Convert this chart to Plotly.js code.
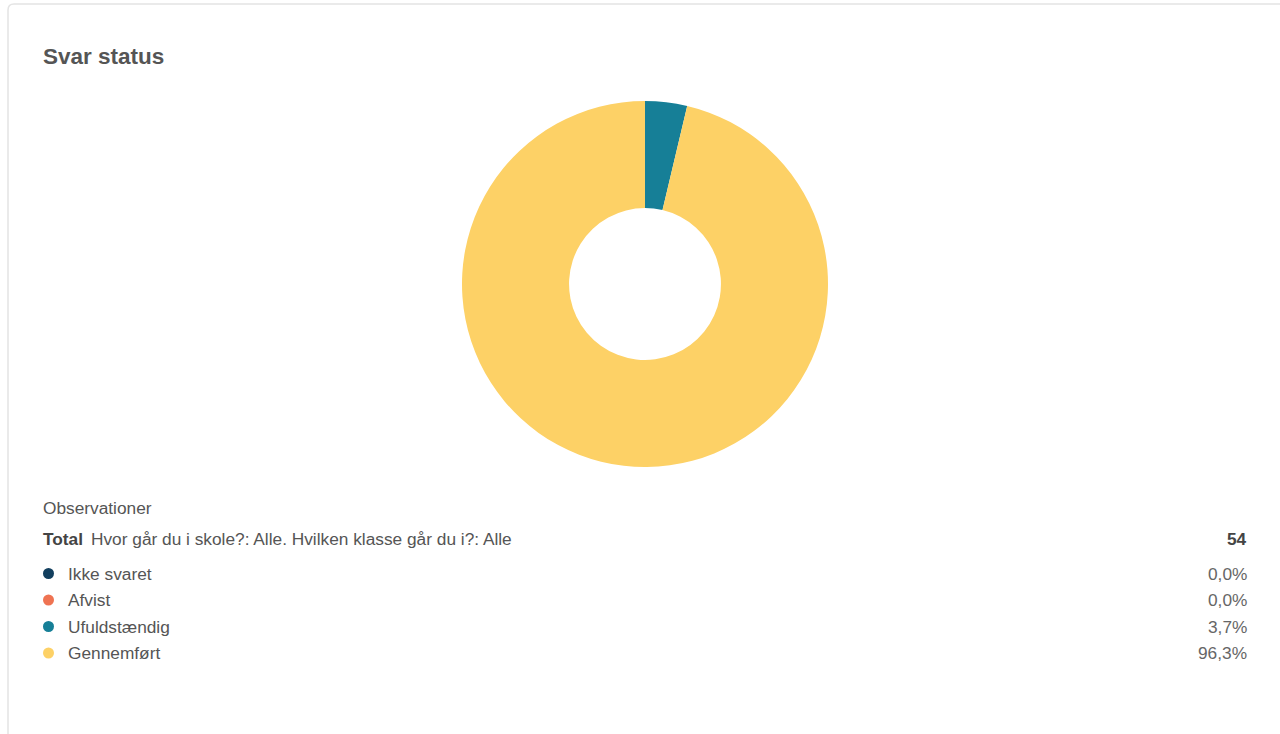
<!DOCTYPE html>
<html>
<head>
<meta charset="utf-8">
<script src="https://cdn.plot.ly/plotly-3.0.1.min.js"></script>
<style>
html,body{margin:0;padding:0;background:#fff;}
#chart{width:1280px;height:734px;}
</style>
</head>
<body>
<div id="chart"></div>
<script>
const categories = ["Ikke svaret", "Afvist", "Ufuldstændig", "Gennemført"];
const counts = [0, 0, 2, 52];
const colors = ["#123f5e", "#ef7352", "#167f97", "#fdd166"];
const chartTitle = "Svar status";
const obsLabel = "Observationer";
const totalLabel = "Total";
const filterText = "Hvor går du i skole?: Alle. Hvilken klasse går du i?: Alle";

const W = 1280, H = 734;
const px = x => x / W;
const py = y => 1 - y / H;

const total = counts.reduce((a, b) => a + b, 0);
const pct = counts.map(c => (c / total * 100).toFixed(1).replace('.', ',') + '%');

const FONT = "Liberation Sans, Arial, sans-serif";
const FS = 17.3;

const trace = {
  type: 'pie',
  labels: categories,
  values: counts,
  marker: {colors: colors, line: {width: 0}},
  hole: 0.415,
  sort: false,
  direction: 'clockwise',
  rotation: 0,
  textinfo: 'none',
  hoverinfo: 'label+percent',
  showlegend: false,
  domain: {x: [px(462), px(828)], y: [py(467), py(101)]}
};

const annotations = [
  {text: '<b>' + chartTitle + '</b>', x: px(41), y: py(56), xanchor: 'left', yanchor: 'middle',
   font: {size: 22.5, color: '#555555', family: FONT}},
  {text: obsLabel, x: px(41), y: py(508), xanchor: 'left', yanchor: 'middle',
   font: {size: FS, color: '#555555', family: FONT}},
  {text: '<b>' + totalLabel + '</b>', x: px(41), y: py(539), xanchor: 'left', yanchor: 'middle',
   font: {size: FS, color: '#444444', family: FONT}},
  {text: filterText, x: px(89), y: py(539), xanchor: 'left', yanchor: 'middle',
   font: {size: FS, color: '#555555', family: FONT}},
  {text: '<b>' + total + '</b>', x: px(1249), y: py(539), xanchor: 'right', yanchor: 'middle',
   font: {size: FS, color: '#444444', family: FONT}}
];

const shapes = [
  {type: 'path', xref: 'paper', yref: 'paper',
   path: `M ${px(8)},${py(740)} L ${px(8)},${py(10)} Q ${px(8)},${py(4)} ${px(14)},${py(4)} L ${px(1290)},${py(4)}`,
   line: {color: '#e4e4e4', width: 1.5}}
];

const rowY0 = 573.5, rowStep = 26.5;
categories.forEach((c, i) => {
  const y = rowY0 + i * rowStep;
  annotations.push({text: c, x: px(66), y: py(y), xanchor: 'left', yanchor: 'middle',
    font: {size: FS, color: '#555555', family: FONT}});
  annotations.push({text: pct[i], x: px(1249), y: py(y), xanchor: 'right', yanchor: 'middle',
    font: {size: FS, color: '#666666', family: FONT}});
  shapes.push({type: 'circle', xref: 'paper', yref: 'paper',
    x0: px(43), x1: px(54), y0: py(y - 5.5), y1: py(y + 5.5),
    fillcolor: colors[i], line: {width: 0}});
});

annotations.forEach(a => { a.xref = 'paper'; a.yref = 'paper'; a.showarrow = false; });

const layout = {
  width: W, height: H,
  margin: {l: 0, r: 0, t: 0, b: 0},
  paper_bgcolor: '#ffffff',
  plot_bgcolor: '#ffffff',
  showlegend: false,
  annotations: annotations,
  shapes: shapes,
  font: {family: FONT}
};

Plotly.newPlot('chart', [trace], layout, {displayModeBar: false, staticPlot: false});
</script>
</body>
</html>
